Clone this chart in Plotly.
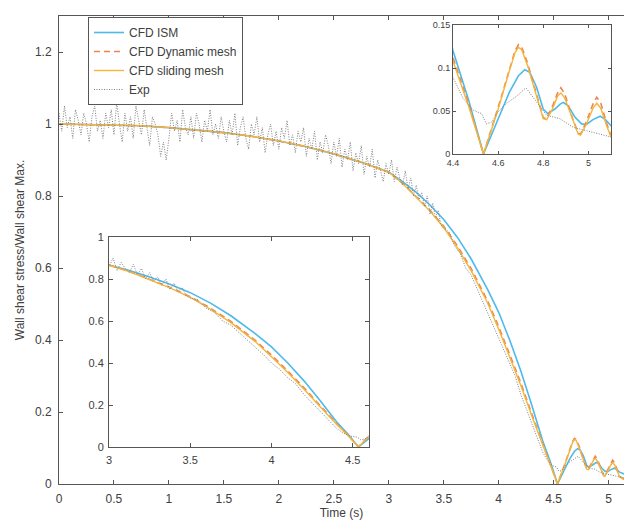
import numpy as np
import plotly.graph_objects as go

# ---- data ----
cfd_t = [0, 0.25, 0.5, 0.75, 1.0, 1.25, 1.5, 1.75, 2.0, 2.25, 2.5, 2.75, 3.0, 3.125, 3.25, 3.375, 3.5, 3.625,
         3.75, 3.9, 4.0, 4.1, 4.2, 4.3, 4.4, 4.47, 4.535]
ism_head = [1.0, 0.999, 0.998, 0.995, 0.99, 0.984, 0.976, 0.966, 0.953, 0.937, 0.917, 0.894, 0.867, 0.84, 0.81,
            0.775, 0.735, 0.685, 0.625, 0.54, 0.477, 0.40, 0.315, 0.22, 0.12, 0.062, 0.0]
slide_head = [1.0, 0.999, 0.998, 0.995, 0.99, 0.984, 0.976, 0.966, 0.953, 0.937, 0.917, 0.894, 0.866, 0.835, 0.797,
              0.758, 0.712, 0.656, 0.592, 0.502, 0.43, 0.355, 0.275, 0.19, 0.108, 0.055, 0.0]
dyn_head = [1.0, 0.999, 0.998, 0.995, 0.99, 0.984, 0.976, 0.966, 0.953, 0.937, 0.917, 0.894, 0.866, 0.836, 0.799,
            0.760, 0.716, 0.661, 0.598, 0.508, 0.437, 0.362, 0.282, 0.196, 0.112, 0.058, 0.0]

ism_tail_t = [4.6, 4.65, 4.69, 4.718, 4.74, 4.77, 4.8, 4.82, 4.85, 4.875, 4.889, 4.91, 4.94, 4.97, 4.99, 5.02,
              5.052, 5.075, 5.1, 5.14]
ism_tail = [0.041, 0.072, 0.091, 0.098, 0.095, 0.078, 0.052, 0.047, 0.052, 0.058, 0.060, 0.056, 0.043, 0.035,
            0.034, 0.040, 0.044, 0.040, 0.033, 0.028]

osc_t = [4.6, 4.65, 4.675, 4.69, 4.705, 4.73, 4.77, 4.8, 4.815, 4.84, 4.865, 4.878, 4.895, 4.93, 4.955, 4.965,
         4.99, 5.02, 5.037, 5.055, 5.08, 5.1, 5.14]
slide_tail = [0.052, 0.097, 0.118, 0.124, 0.121, 0.103, 0.066, 0.041, 0.040, 0.052, 0.068, 0.071, 0.065, 0.039,
              0.023, 0.022, 0.034, 0.053, 0.059, 0.053, 0.033, 0.020, 0.012]
dyn_tail = [0.054, 0.099, 0.120, 0.127, 0.124, 0.106, 0.068, 0.042, 0.041, 0.055, 0.072, 0.077, 0.070, 0.041,
            0.024, 0.023, 0.037, 0.058, 0.066, 0.059, 0.036, 0.021, 0.013]

exp_dense = [
    1.03, 0.98, 1.05, 0.99, 1.02, 0.96, 1.04, 1.01, 0.97, 1.03, 1.00, 0.95, 1.02, 1.05, 0.98, 1.01, 0.96, 1.03, 0.99, 1.04,
    0.97, 1.06, 1.00, 0.95, 1.03, 0.98, 1.02, 0.96, 1.05, 1.01, 0.97, 1.04, 0.99, 0.94, 1.02, 1.00, 0.97, 0.91, 0.95, 0.90,
    0.96, 1.03, 0.98, 1.01, 0.95, 1.04, 0.99, 0.97, 1.02, 0.96, 1.03, 1.00, 0.95, 1.01, 0.98, 1.04, 0.97, 1.00, 0.96, 1.02,
    0.98, 0.95, 1.01, 0.97, 1.03, 0.94, 0.99, 1.02, 0.96, 0.93, 1.00, 0.97, 1.02, 0.95, 0.99, 0.92, 0.97, 1.00, 0.94, 0.98,
    0.93, 0.99, 0.96, 1.01, 0.94, 0.97, 0.92, 0.98, 0.95, 0.99, 0.91, 0.96, 0.93, 0.98, 0.90, 0.95, 0.92, 0.97, 0.94, 0.89,
    0.95, 0.91, 0.96, 0.88, 0.93, 0.90, 0.95, 0.87, 0.92, 0.89, 0.94, 0.86, 0.91, 0.88, 0.93, 0.85, 0.90, 0.87, 0.84, 0.89,
    0.86, 0.90, 0.84, 0.88, 0.85, 0.83, 0.87, 0.82, 0.85, 0.80, 0.83, 0.79, 0.81, 0.77, 0.80, 0.75, 0.78, 0.74, 0.76, 0.72,
]
exp_dense_t = np.round(np.arange(len(exp_dense)) * 0.025, 3)

exp_tail_t = [3.5, 3.55, 3.6, 3.65, 3.7, 3.75, 3.8, 3.85, 3.9, 3.95, 4.0, 4.05, 4.1, 4.15, 4.2, 4.25, 4.3, 4.35,
              4.4, 4.444, 4.489, 4.526, 4.548, 4.57, 4.6, 4.637, 4.681, 4.723, 4.763, 4.815, 4.874, 4.933,
              4.993, 5.052, 5.1, 5.14]
exp_tail = [0.71, 0.70, 0.66, 0.64, 0.60, 0.58, 0.545, 0.51, 0.475, 0.44, 0.40, 0.37, 0.33, 0.30, 0.25, 0.21,
            0.17, 0.13, 0.089, 0.065, 0.051, 0.047, 0.035, 0.037, 0.049, 0.059, 0.067, 0.077, 0.063, 0.045,
            0.041, 0.031, 0.027, 0.023, 0.019, 0.017]

ism_t = cfd_t + ism_tail_t
ism = ism_head + ism_tail
slide_t = cfd_t + osc_t
slide = slide_head + slide_tail
dyn_t = cfd_t + osc_t
dyn = dyn_head + dyn_tail
exp_t = list(exp_dense_t) + exp_tail_t
exp_v = exp_dense + exp_tail

names = ["CFD ISM", "CFD Dynamic mesh", "CFD sliding mesh", "Exp"]
colors = ["#4DBAEC", "#EE8454", "#F3B53A", "#808080"]

W, H = 624, 524
L, R, T, B = 59, 0, 16, 40
PW, PH = W - L - R, H - T - B
FONT = "Liberation Sans, Arial, sans-serif"
AX = "#555555"
TXT = "#404040"

fig = go.Figure()

series = [(ism_t, ism, dict(color=colors[0], width=1.6)),
          (dyn_t, dyn, dict(color=colors[1], width=1.6, dash="6px,4px")),
          (slide_t, slide, dict(color=colors[2], width=1.4)),
          (exp_t, exp_v, dict(color=colors[3], width=1, dash="1px,1.5px"))]

for k, (xa, ya) in enumerate([("x", "y"), ("x2", "y2"), ("x3", "y3")]):
    for i, (tx, vy, ln) in enumerate(series):
        fig.add_trace(go.Scatter(x=tx, y=vy, mode="lines", line=ln, name=names[i],
                                 showlegend=(k == 0), xaxis=xa, yaxis=ya))


def px_x(p):
    return (p - L) / PW


def px_y(p):
    return (H - B - p) / PH


common = dict(showline=True, linecolor=AX, linewidth=1, ticks="inside", tickcolor=AX, ticklen=4,
              showgrid=False, zeroline=False, automargin=False, tickfont=dict(family=FONT, size=12, color=TXT))
small = dict(family=FONT, size=9, color=TXT)
mid = dict(family=FONT, size=11, color=TXT)

fig.update_layout(
    width=W, height=H, margin=dict(l=L, r=R, t=T, b=B, autoexpand=False),
    paper_bgcolor="white", plot_bgcolor="white",
    font=dict(family=FONT, color=TXT),
    xaxis=dict(common, domain=[0, 1], range=[0, 5.14], tickvals=[0, 0.5, 1, 1.5, 2, 2.5, 3, 3.5, 4, 4.5, 5],
               ticktext=["0", "0.5", "1", "1.5", "2", "2.5", "3", "3.5", "4", "4.5", "5"], mirror="ticks",
               anchor="y", ticklabelstandoff=4,
               title=dict(text="Time (s)", font=dict(size=12, family=FONT, color=TXT), standoff=0)),
    yaxis=dict(common, domain=[0, 1], range=[0, 1.3], tickvals=[0, 0.2, 0.4, 0.6, 0.8, 1, 1.2],
               ticktext=["0", "0.2", "0.4", "0.6", "0.8", "1", "1.2"], anchor="x", ticklabelstandoff=4,
               title=dict(text="Wall shear stress/Wall shear Max.", font=dict(size=12, family=FONT, color=TXT), standoff=7)),
    xaxis2=dict(common, domain=[px_x(109), px_x(369)], range=[3, 4.6], tickvals=[3, 3.5, 4, 4.5],
                ticktext=["3", "3.5", "4", "4.5"], mirror="ticks", anchor="y2", tickfont=mid, ticklabelstandoff=3),
    yaxis2=dict(common, domain=[px_y(447), px_y(237)], range=[0, 1], tickvals=[0, 0.2, 0.4, 0.6, 0.8, 1],
                ticktext=["0", "0.2", "0.4", "0.6", "0.8", "1"], mirror="ticks", anchor="x2", tickfont=mid,
                ticklabelstandoff=2),
    xaxis3=dict(common, domain=[px_x(453), px_x(611)], range=[4.4, 5.1], tickvals=[4.4, 4.6, 4.8, 5],
                ticktext=["4.4", "4.6", "4.8", "5"], mirror="ticks", anchor="y3", tickfont=small, ticklen=3),
    yaxis3=dict(common, domain=[px_y(154), px_y(25)], range=[0, 0.15], tickvals=[0, 0.05, 0.1, 0.15],
                ticktext=["0", "0.05", "0.1", "0.15"], mirror="ticks", anchor="x3", tickfont=small, ticklen=3),
    legend=dict(x=px_x(88), y=px_y(17), xanchor="left", yanchor="top", bgcolor="white",
                bordercolor=AX, borderwidth=1, font=dict(family=FONT, size=12, color=TXT),
                tracegroupgap=0),
)

fig.write_html("out.html")
